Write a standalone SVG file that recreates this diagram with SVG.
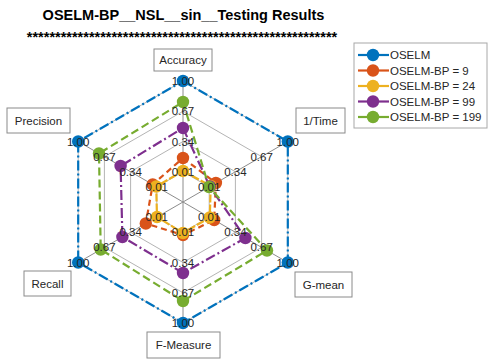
<svg xmlns="http://www.w3.org/2000/svg" width="489" height="362" viewBox="0 0 489 362">
  <style>
    text { font-family: "Liberation Sans", Arial, sans-serif; }
    .title { font-size: 14.5px; font-weight: bold; fill: #000; text-anchor: middle; }
    .grid { fill: none; stroke: #b4b4b4; stroke-width: 1; }
    .spoke { stroke: #8c8c8c; stroke-width: 1; }
    .tick { font-size: 11.5px; fill: #262626; text-anchor: middle; dominant-baseline: central; }
    .axbox { fill: #fff; stroke: #8a8a8a; stroke-width: 1; }
    .axlbl { font-size: 11.5px; fill: #262626; text-anchor: middle; dominant-baseline: central; }
    .s { fill: none; stroke-width: 2.2; stroke-linejoin: round; }
    .blue { stroke: #0072BD; stroke-dasharray: 10 3 2 3; }
    .orange { stroke: #D95319; stroke-dasharray: 6 4; }
    .yellow { stroke: #EDB120; stroke-dasharray: 8 2; }
    .purple { stroke: #7E2F8E; stroke-dasharray: 10 3 2 3; }
    .green { stroke: #77AC30; stroke-dasharray: 8 4; }
    .mb { fill: #0072BD; }
    .mo { fill: #D95319; }
    .my { fill: #EDB120; }
    .mp { fill: #7E2F8E; }
    .mg { fill: #77AC30; }
    .leg { font-size: 11.5px; fill: #262626; dominant-baseline: central; }
  </style>
  <defs>
    <circle id="dot" r="6.2"/>
  </defs>
  <rect width="489" height="362" fill="#fff"/>

  <!-- title -->
  <text class="title" x="183.5" y="20">OSELM-BP__NSL__sin__Testing Results</text>
  <text class="title" x="182" y="42">*******************************************************</text>

  <!-- polar grid: rings and spokes -->
  <g id="grid">
    <polygon class="grid" points="183,171.75 209.2,186.9 209.2,217.1 183,232.25 156.8,217.1 156.8,186.9"/>
    <polygon class="grid" points="183,141.5 235.4,171.75 235.4,232.25 183,262.5 130.6,232.25 130.6,171.75"/>
    <polygon class="grid" points="183,111.25 261.6,156.6 261.6,247.4 183,292.75 104.4,247.4 104.4,156.6"/>
    <polygon class="grid" points="183,81 287.8,141.5 287.8,262.5 183,323 78.2,262.5 78.2,141.5"/>
    <line class="spoke" x1="183" y1="202" x2="183" y2="81"/>
    <line class="spoke" x1="183" y1="202" x2="287.8" y2="141.5"/>
    <line class="spoke" x1="183" y1="202" x2="287.8" y2="262.5"/>
    <line class="spoke" x1="183" y1="202" x2="183" y2="323"/>
    <line class="spoke" x1="183" y1="202" x2="78.2" y2="262.5"/>
    <line class="spoke" x1="183" y1="202" x2="78.2" y2="141.5"/>
  </g>

  <!-- data series -->
  <g id="connectors">
    <polygon class="s blue" points="183,81 287.8,141.5 287.8,262.5 183,323 78.2,262.5 78.2,141.5"/>
    <polygon class="s orange" points="183,158 215.9,183 214.2,220 183,235 145.8,223.5 152.7,184.5"/>
    <polygon class="s yellow" points="183,171 210.7,186 209.8,217.5 183,233 157,217 156.2,186.5"/>
    <polygon class="s purple" points="183,128 209.8,186.5 245.4,238 183,273 122.4,237 120.6,166"/>
    <polygon class="s green" points="183,102 209,187 267,250.5 183,301 100.7,249.5 99,153.5"/>
  </g>

  <g id="markers">
    <g class="mb">
      <use href="#dot" x="183" y="81"/><use href="#dot" x="287.8" y="141.5"/><use href="#dot" x="287.8" y="262.5"/>
      <use href="#dot" x="183" y="323"/><use href="#dot" x="78.2" y="262.5"/><use href="#dot" x="78.2" y="141.5"/>
    </g>
    <g class="mo">
      <use href="#dot" x="183" y="158"/><use href="#dot" x="215.9" y="183"/><use href="#dot" x="214.2" y="220"/>
      <use href="#dot" x="183" y="235"/><use href="#dot" x="145.8" y="223.5"/><use href="#dot" x="152.7" y="184.5"/>
    </g>
    <g class="my">
      <use href="#dot" x="183" y="171"/><use href="#dot" x="210.7" y="186"/><use href="#dot" x="209.8" y="217.5"/>
      <use href="#dot" x="183" y="233"/><use href="#dot" x="157" y="217"/><use href="#dot" x="156.2" y="186.5"/>
    </g>
    <g class="mp">
      <use href="#dot" x="183" y="128"/><use href="#dot" x="209.8" y="186.5"/><use href="#dot" x="245.4" y="238"/>
      <use href="#dot" x="183" y="273"/><use href="#dot" x="122.4" y="237"/><use href="#dot" x="120.6" y="166"/>
    </g>
    <g class="mg">
      <use href="#dot" x="183" y="102"/><use href="#dot" x="209" y="187"/><use href="#dot" x="267" y="250.5"/>
      <use href="#dot" x="183" y="301"/><use href="#dot" x="100.7" y="249.5"/><use href="#dot" x="99" y="153.5"/>
    </g>
  </g>

  <!-- ring values along each axis -->
  <g id="ticks">
    <text class="tick" x="183" y="171.75">0.01</text>
    <text class="tick" x="183" y="141.5">0.34</text>
    <text class="tick" x="183" y="111.25">0.67</text>
    <text class="tick" x="183" y="81">1.00</text>

    <text class="tick" x="209.2" y="186.9">0.01</text>
    <text class="tick" x="235.4" y="171.75">0.34</text>
    <text class="tick" x="261.6" y="156.6">0.67</text>
    <text class="tick" x="287.8" y="141.5">1.00</text>

    <text class="tick" x="209.2" y="217.1">0.01</text>
    <text class="tick" x="235.4" y="232.25">0.34</text>
    <text class="tick" x="261.6" y="247.4">0.67</text>
    <text class="tick" x="287.8" y="262.5">1.00</text>

    <text class="tick" x="183" y="232.25">0.01</text>
    <text class="tick" x="183" y="262.5">0.34</text>
    <text class="tick" x="183" y="292.75">0.67</text>
    <text class="tick" x="183" y="323">1.00</text>

    <text class="tick" x="156.8" y="217.1">0.01</text>
    <text class="tick" x="130.6" y="232.25">0.34</text>
    <text class="tick" x="104.4" y="247.4">0.67</text>
    <text class="tick" x="78.2" y="262.5">1.00</text>

    <text class="tick" x="156.8" y="186.9">0.01</text>
    <text class="tick" x="130.6" y="171.75">0.34</text>
    <text class="tick" x="104.4" y="156.6">0.67</text>
    <text class="tick" x="78.2" y="141.5">1.00</text>
  </g>

  <!-- axis labels -->
  <g id="ax-accuracy">
    <rect class="axbox" x="154" y="49" width="58" height="22"/>
    <text class="axlbl" x="183" y="60">Accuracy</text>
  </g>
  <g id="ax-time">
    <rect class="axbox" x="296" y="108" width="49" height="25"/>
    <text class="axlbl" x="320.5" y="120.5">1/Time</text>
  </g>
  <g id="ax-gmean">
    <rect class="axbox" x="295" y="272" width="57" height="25"/>
    <text class="axlbl" x="323.5" y="284.5">G-mean</text>
  </g>
  <g id="ax-fmeasure">
    <rect class="axbox" x="147" y="332" width="73" height="26"/>
    <text class="axlbl" x="183.5" y="345">F-Measure</text>
  </g>
  <g id="ax-recall">
    <rect class="axbox" x="24" y="271" width="47" height="25"/>
    <text class="axlbl" x="47.5" y="283.5">Recall</text>
  </g>
  <g id="ax-precision">
    <rect class="axbox" x="7" y="108" width="63" height="25"/>
    <text class="axlbl" x="38.5" y="120.5">Precision</text>
  </g>

  <!-- legend -->
  <g id="legend">
    <rect x="354" y="43" width="133" height="85" fill="#fff" stroke="#a8a8a8" stroke-width="1"/>
    <line class="s blue" x1="358" y1="55" x2="389" y2="55" style="stroke-dasharray:none"/>
    <use href="#dot" class="mb" x="373" y="55"/>
    <text class="leg" x="390" y="55">OSELM</text>
    <line class="s orange" x1="358" y1="70.5" x2="389" y2="70.5" style="stroke-dasharray:none"/>
    <use href="#dot" class="mo" x="373" y="70.5"/>
    <text class="leg" x="390" y="70.5">OSELM-BP = 9</text>
    <line class="s yellow" x1="358" y1="86" x2="389" y2="86" style="stroke-dasharray:none"/>
    <use href="#dot" class="my" x="373" y="86"/>
    <text class="leg" x="390" y="86">OSELM-BP = 24</text>
    <line class="s purple" x1="358" y1="101.5" x2="389" y2="101.5" style="stroke-dasharray:none"/>
    <use href="#dot" class="mp" x="373" y="101.5"/>
    <text class="leg" x="390" y="101.5">OSELM-BP = 99</text>
    <line class="s green" x1="358" y1="117" x2="389" y2="117" style="stroke-dasharray:none"/>
    <use href="#dot" class="mg" x="373" y="117"/>
    <text class="leg" x="390" y="117">OSELM-BP = 199</text>
  </g>
</svg>
